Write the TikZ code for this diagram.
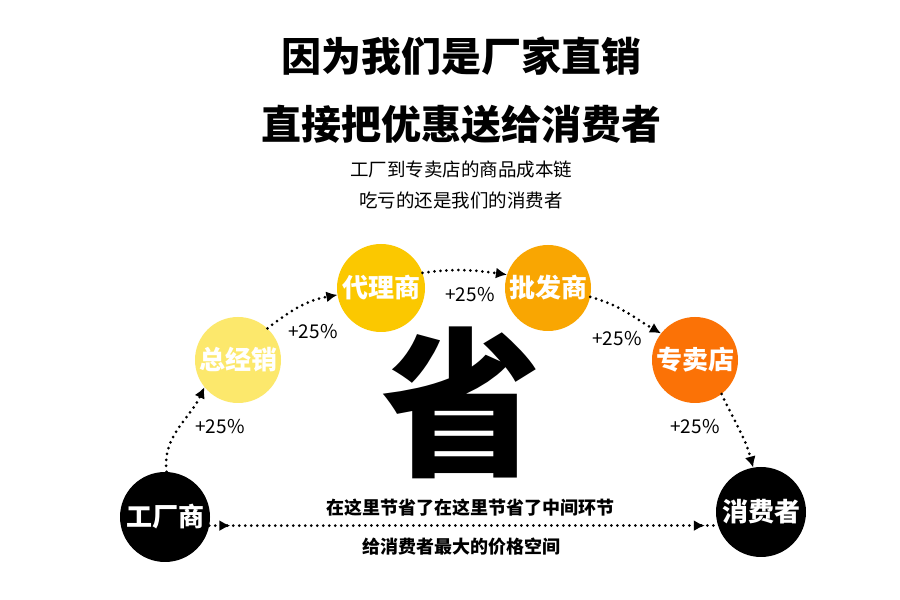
\documentclass[tikz,border=0pt]{standalone}
\usepackage{fontspec}
\setmainfont{Noto Sans CJK SC}
\usetikzlibrary{arrows.meta,decorations.markings}
\definecolor{cA}{HTML}{FCE86C}
\definecolor{cB}{HTML}{FBC800}
\definecolor{cC}{HTML}{F9A602}
\definecolor{cD}{HTML}{FB7206}
\begin{document}
\begin{tikzpicture}[x=1pt,y=1pt,
  circ/.style={circle,inner sep=0pt,minimum size=#1,text=white,
    font=\fontsize{26}{26}\selectfont\bfseries},
  dotline/.style={line width=3pt,dash pattern=on 0pt off 6pt,line cap=round},
  flow/.style={dotline,-{Latex[length=11pt,width=11pt]}},
  pct/.style={inner sep=0pt,font=\fontsize{19}{19}\selectfont},
  titletext/.style={inner sep=0pt,font=\fontsize{40}{40}\selectfont\bfseries},
  subtext/.style={inner sep=0pt,font=\fontsize{18.5}{18.5}\selectfont},
  captext/.style={inner sep=0pt,font=\fontsize{18}{18}\selectfont\bfseries}]
\useasboundingbox[fill=white] (0,0) rectangle (900,600);

% titles
\node[titletext] (t1) at (461,544) {因为我们是厂家直销};
\node[titletext] (t2) at (461,476) {直接把优惠送给消费者};
\node[subtext] (s1) at (461,430) {工厂到专卖店的商品成本链};
\node[subtext] (s2) at (461,400) {吃亏的还是我们的消费者};

% big character
\node[inner sep=0pt,font=\fontsize{160}{160}\selectfont\bfseries] (big) at (461,197) {省};

% circles
\node[circ=90pt,fill=black] (fac) at (165,83) {工厂商};
\node[circ=86pt,fill=cA] (zjx) at (238,240) {总经销};
\node[circ=88pt,fill=cB] (dls) at (381,312) {代理商};
\node[circ=86pt,fill=cC] (pfs) at (548,312) {批发商};
\node[circ=86pt,fill=cD] (zmd) at (695,240) {专卖店};
\node[circ=90pt,fill=black] (xfz) at (761,88) {消费者};

% flow arrows
\draw[flow] (fac.88) to[out=97,in=245] (zjx.219);
\draw[flow] (zjx.47) to[out=38,in=190] (dls.189);
\draw[flow] (dls.20) to[out=8,in=172] (pfs.162);
\draw[flow] (pfs.348) to[out=-15,in=150] (zmd.142);
\draw[flow] (zmd.308) to[out=-65,in=105] (xfz.100);

% percentages
\node[pct] (p1) at (220,173) {+25\%};
\node[pct] (p2) at (313,268) {+25\%};
\node[pct] (p3) at (470,305) {+25\%};
\node[pct] (p4) at (617,261) {+25\%};
\node[pct] (p5) at (695,173) {+25\%};

% horizontal connector
\draw[dotline,
  postaction={decorate,decoration={markings,
    mark=at position 21pt with {\arrow{Latex[length=11pt,width=11pt]}},
    mark=at position -11pt with {\arrow{Latex[length=11pt,width=11pt]}}}}]
  (fac.-11) -- (fac.-11 -| xfz.west);

% captions
\node[captext] (c1) at (470,92) {在这里节省了在这里节省了中间环节};
\node[captext] (c2) at (461,53) {给消费者最大的价格空间};
\end{tikzpicture}
\end{document}
